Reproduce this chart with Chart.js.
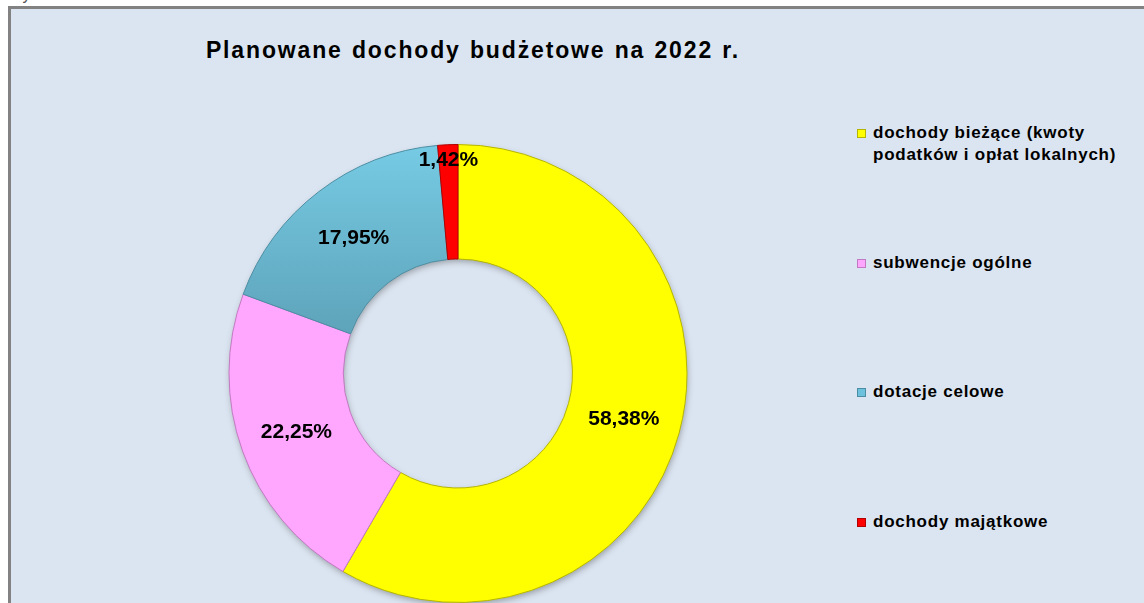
<!DOCTYPE html>
<html>
<head>
<meta charset="utf-8">
<script src="https://cdn.jsdelivr.net/npm/chart.js@4/dist/chart.umd.min.js"></script>
<style>
  html, body { margin: 0; padding: 0; background: #ffffff; width: 1144px; height: 603px; overflow: hidden; }
  #cut { position: absolute; left: 10px; top: -13px; font: 16px "Liberation Sans", Arial, sans-serif; color: #555; line-height: 16px; white-space: nowrap; }
  #frame { position: absolute; left: 8px; top: 6px; width: 1200px; height: 700px; background: #dbe5f1; border-left: 3px solid #828282; border-top: 3px solid #828282; }
  #title { position: absolute; left: 0; top: 37px; width: 946px; text-align: center; font: bold 23px "Liberation Sans", Arial, sans-serif; letter-spacing: 1.85px; word-spacing: 1px; color: #000; white-space: nowrap; }
  #legend { position: absolute; left: 857px; top: 0; font: bold 17px "Liberation Sans", Arial, sans-serif; letter-spacing: 0.75px; color: #000; }
  .item { position: absolute; left: 0; width: 290px; line-height: 22px; }
  .item .sw { position: absolute; left: 0; top: 7px; width: 9px; height: 9px; box-sizing: border-box; }
  .item .tx { position: absolute; left: 16px; top: 0; white-space: nowrap; }
  canvas { position: absolute; left: 0; top: 0; }
</style>
</head>
<body>
<div id="cut">ały wskaźnik</div>
<div id="frame"></div>
<div id="title">Planowane dochody budżetowe na 2022 r.</div>
<div id="legend"></div>
<canvas id="c" width="1144" height="603"></canvas>
<script>
const categories = [
  "dochody bieżące (kwoty podatków i opłat lokalnych)",
  "subwencje ogólne",
  "dotacje celowe",
  "dochody majątkowe"
];
const legendLines = [
  ["dochody bieżące (kwoty", "podatków i opłat lokalnych)"],
  ["subwencje ogólne"],
  ["dotacje celowe"],
  ["dochody majątkowe"]
];
const shares = [58.38, 22.25, 17.95, 1.42];
const percentLabels = ["58,38%", "22,25%", "17,95%", "1,42%"];

const fillColors = ["#ffff00", "#ffa6ff", "#6cc2dc", "#ff0000"];
const edgeColors = ["#b5b500", "#c27ac2", "#4b8ea3", "#b00000"];
const legendTops = [122, 252, 381, 511];

// HTML legend
const leg = document.getElementById('legend');
legendLines.forEach((lines, i) => {
  const d = document.createElement('div');
  d.className = 'item';
  d.style.top = legendTops[i] + 'px';
  const sw = document.createElement('div');
  sw.className = 'sw';
  sw.style.background = fillColors[i];
  sw.style.border = '1px solid ' + edgeColors[i];
  const tx = document.createElement('div');
  tx.className = 'tx';
  tx.innerHTML = lines.join('<br>');
  d.appendChild(sw); d.appendChild(tx);
  leg.appendChild(d);
});

function sliceFill(ctx) {
  const i = ctx.dataIndex;
  const chart = ctx.chart;
  if (i === 2 && chart.chartArea) {
    const a = chart.chartArea;
    const g = chart.ctx.createLinearGradient(0, a.top, 0, a.top + 220);
    g.addColorStop(0, '#76cbe4');
    g.addColorStop(1, '#5a9db3');
    return g;
  }
  return fillColors[i];
}

const ringShadow = {
  id: 'ringShadow',
  beforeDatasetsDraw(chart) {
    const arc = chart.getDatasetMeta(0).data[0];
    if (!arc) return;
    const { x, y, innerRadius, outerRadius } = arc.getProps(['x','y','innerRadius','outerRadius'], true);
    const c = chart.ctx;
    c.save();
    c.shadowColor = 'rgba(0,0,0,0.35)';
    c.shadowBlur = 7;
    c.shadowOffsetX = 1;
    c.shadowOffsetY = 3;
    c.fillStyle = '#888';
    c.beginPath();
    c.arc(x, y, outerRadius - 1, 0, Math.PI * 2);
    c.arc(x, y, innerRadius + 1, 0, Math.PI * 2, true);
    c.fill();
    c.restore();
  }
};

const sliceLabels = {
  id: 'sliceLabels',
  afterDatasetsDraw(chart) {
    const meta = chart.getDatasetMeta(0);
    const c = chart.ctx;
    c.save();
    c.font = 'bold 21px "Liberation Sans", Arial, sans-serif';
    c.fillStyle = '#000';
    c.textAlign = 'center';
    c.textBaseline = 'middle';
    meta.data.forEach((arc, i) => {
      const p = arc.getProps(['x','y','startAngle','endAngle','innerRadius','outerRadius'], true);
      const mid = (p.startAngle + p.endAngle) / 2;
      const r = shares[i] < 3 ? p.outerRadius - 14 : (p.innerRadius + p.outerRadius) / 2;
      c.fillText(percentLabels[i], p.x + Math.cos(mid) * r, p.y + Math.sin(mid) * r + 1);
    });
    c.restore();
  }
};

new Chart(document.getElementById('c'), {
  type: 'doughnut',
  data: {
    labels: categories,
    datasets: [{
      data: shares,
      backgroundColor: sliceFill,
      borderColor: edgeColors,
      borderWidth: 1,
      hoverOffset: 0
    }]
  },
  options: {
    responsive: false,
    animation: false,
    cutout: '50%',
    layout: { padding: { left: 228, top: 144, right: 456, bottom: 0 } },
    plugins: {
      legend: { display: false },
      title: { display: false },
      tooltip: { enabled: false }
    },
    events: []
  },
  plugins: [ringShadow, sliceLabels]
});
</script>
</body>
</html>
